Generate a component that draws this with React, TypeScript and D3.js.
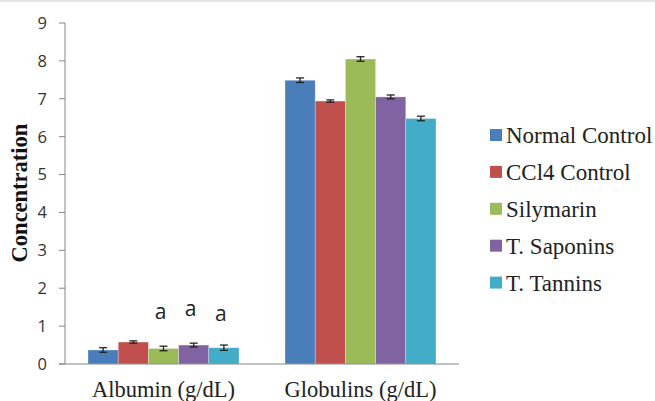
import React from "react";
import * as d3 from "d3";

const categories = ["Albumin (g/dL)", "Globulins (g/dL)"];
const seriesNames = ["Normal Control", "CCl4 Control", "Silymarin", "T. Saponins", "T. Tannins"];
const seriesColors = ["#4a7ebb", "#c0504d", "#9bbb59", "#8064a2", "#43acc6"];
const albuminValues = [0.37, 0.58, 0.41, 0.5, 0.43];
const albuminErrors = [0.06, 0.03, 0.06, 0.05, 0.07];
const globulinValues = [7.49, 6.94, 8.05, 7.05, 6.48];
const globulinErrors = [0.06, 0.03, 0.06, 0.05, 0.06];
const yTicks = [0, 1, 2, 3, 4, 5, 6, 7, 8, 9];
const albuminMarks = ["", "", "a", "a", "a"];
const markOffsets = [0, 0, 0.72, 0.72, 0.72];

const W = 655;
const H = 401;

export default function App() {
  const x0 = d3.scaleBand<string>().domain(categories).range([65, 459]).paddingInner(0.2335).paddingOuter(0.2335 / 2);
  const x1 = d3.scaleBand<string>().domain(seriesNames).range([0, x0.bandwidth()]).padding(0);
  const y = d3.scaleLinear().domain([0, 9]).range([364, 23]);

  const groups = [
    { cat: categories[0], values: albuminValues, errors: albuminErrors },
    { cat: categories[1], values: globulinValues, errors: globulinErrors },
  ];

  return (
    <svg width={W} height={H} style={{ position: "absolute", left: 0, top: 0, background: "#fff" }}>
      <rect x={0} y={0} width={W} height={2} fill="#e5e5e5" />
      {/* y axis */}
      <line x1={65} x2={65} y1={y(9)} y2={y(0)} stroke="#868686" strokeWidth={1} />
      {yTicks.map((t) => (
        <g key={t}>
          <line x1={59} x2={65} y1={y(t)} y2={y(t)} stroke="#868686" strokeWidth={1} />
          <text x={47} y={y(t)} dy="0.36em" textAnchor="end" fontFamily="'Open Sans', sans-serif" fontSize={16.5} fill="#333">
            {t}
          </text>
        </g>
      ))}
      {/* bars */}
      {groups.map((g) => (
        <g key={g.cat} transform={`translate(${x0(g.cat)},0)`}>
          {seriesNames.map((s, i) => {
            const bx = x1(s)!;
            const bw = x1.bandwidth();
            const v = g.values[i];
            const e = g.errors[i];
            const cx = bx + bw / 2;
            return (
              <g key={s}>
                <rect x={bx} y={y(v)} width={bw} height={y(0) - y(v)} fill={seriesColors[i]} stroke="#ffffff" strokeOpacity={0.5} strokeWidth={0.6} />
                <line x1={cx} x2={cx} y1={y(v + e)} y2={y(v - e)} stroke="#222" strokeWidth={1.3} />
                <line x1={cx - 4} x2={cx + 4} y1={y(v + e)} y2={y(v + e)} stroke="#222" strokeWidth={1.3} />
                <line x1={cx - 4} x2={cx + 4} y1={y(v - e)} y2={y(v - e)} stroke="#222" strokeWidth={1.3} />
              </g>
            );
          })}
        </g>
      ))}
      {/* significance marks */}
      {seriesNames.map((s, i) =>
        albuminMarks[i] ? (
          <text
            key={s}
            x={x0(categories[0])! + x1(s)! + x1.bandwidth() / 2 - 3}
            y={y(albuminValues[i] + albuminErrors[i] + markOffsets[i]) + (i === 4 ? 3.5 : 0)}
            textAnchor="middle"
            fontFamily="'Open Sans', sans-serif"
            fontSize={21}
            fill="#222"
          >
            {albuminMarks[i]}
          </text>
        ) : null
      )}
      {/* x axis */}
      <line x1={59} x2={459} y1={y(0)} y2={y(0)} stroke="#868686" strokeWidth={1.2} />
      {categories.map((c) => (
        <text key={c} x={x0(c)! + x0.bandwidth() / 2} y={397} textAnchor="middle" fontFamily="'Liberation Serif', 'Times New Roman', serif" fontSize={22.5} fill="#222">
          {c}
        </text>
      ))}
      {/* y label */}
      <text
        transform={`translate(27,193) rotate(-90)`}
        textAnchor="middle"
        fontFamily="'Liberation Serif', 'Times New Roman', serif"
        fontWeight="bold"
        fontSize={22.5}
        fill="#111"
      >
        Concentration
      </text>
      {/* legend */}
      {seriesNames.map((s, i) => (
        <g key={s} transform={`translate(490,${135 + i * 36.9})`}>
          <rect x={0} y={-6} width={12} height={12} fill={seriesColors[i]} />
          <text x={16} y={0} dy="0.35em" fontFamily="'Liberation Serif', 'Times New Roman', serif" fontSize={23} fill="#222">
            {s}
          </text>
        </g>
      ))}
    </svg>
  );
}
